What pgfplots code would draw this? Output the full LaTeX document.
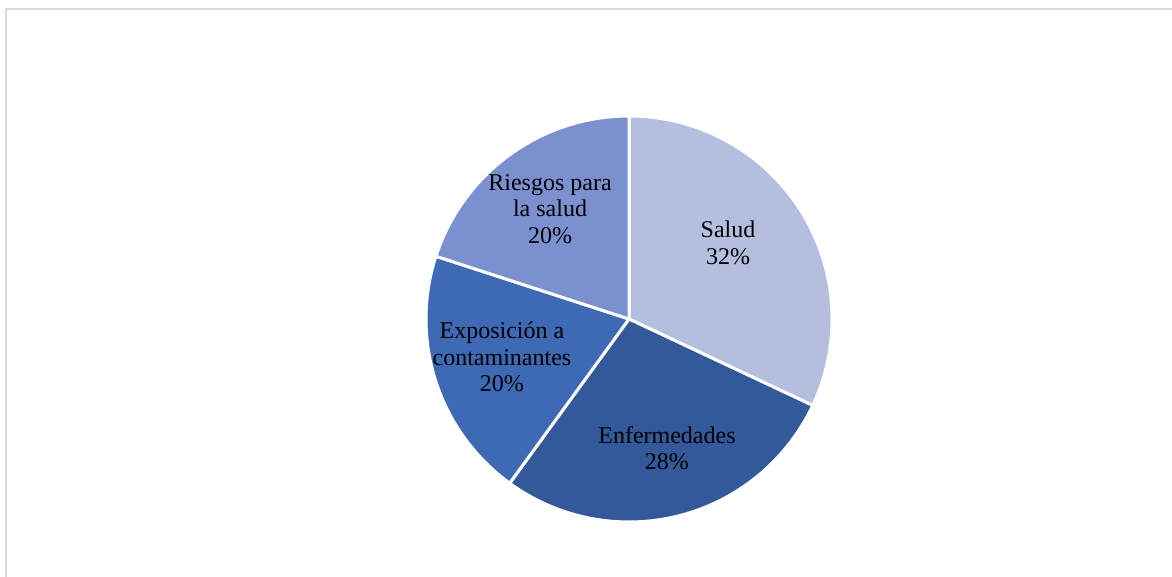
\documentclass[border=0pt]{standalone}
\usepackage{fontspec}
\setmainfont{Liberation Serif}
\usepackage{pgfplots}
\usepackage{pgfplotstable}
\pgfplotsset{compat=1.18}
\definecolor{cSalud}{HTML}{B4BFE0}
\definecolor{cEnf}{HTML}{34599A}
\definecolor{cExp}{HTML}{3E69B5}
\definecolor{cRies}{HTML}{7B91CF}
\definecolor{frame}{HTML}{D9D9D9}
\pgfplotstableread{
category value color
Salud 32 cSalud
Enfermedades 28 cEnf
Exposicion 20 cExp
Riesgos 20 cRies
}\piedata
\begin{document}
\begin{tikzpicture}
\def\radius{101.5pt}
\begin{axis}[width=586pt, height=288.5pt, scale only axis, hide axis,
  xmin=-3.1139, xmax=2.6881, ymin=-1.2772, ymax=1.5792, clip=false]
\def\cum{90}
\pgfplotsforeachungrouped \i in {0,...,3}{%
  \pgfplotstablegetelem{\i}{value}\of\piedata \let\v\pgfplotsretval
  \pgfplotstablegetelem{\i}{color}\of\piedata \let\c\pgfplotsretval
  \pgfmathsetmacro\endang{\cum-3.6*\v}%
  \edef\temp{\noexpand\filldraw[fill=\c, draw=white, line width=1.5pt, line join=round] (axis cs:0,0) -- ++(\cum:\radius) arc[start angle=\cum, end angle=\endang, radius=\radius] -- cycle;}%
  \temp
  \let\cum\endang
}
\begingroup
\fontsize{12}{13.25}\selectfont
\node[align=center, font=\fontsize{12}{13.25}\selectfont] at (axis cs:0.490,0.376) {Salud\\32\%};
\node[align=center, font=\fontsize{12}{13.25}\selectfont] at (axis cs:0.188,-0.639) {Enfermedades\\28\%};
\node[align=center, font=\fontsize{12}{13.25}\selectfont] at (axis cs:-0.629,-0.188) {Exposición a\\contaminantes\\20\%};
\node[align=center, font=\fontsize{12}{13.25}\selectfont] at (axis cs:-0.391,0.545) {Riesgos para\\la salud\\20\%};
\endgroup
\end{axis}
\draw[overlay, frame, line width=1pt] ([shift={(2.75pt,-4.75pt)}]current axis.north west) rectangle ([shift={(10pt,-10pt)}]current axis.south east);
\pgfresetboundingbox
\path[use as bounding box] (current axis.south west) rectangle (current axis.north east);
\end{tikzpicture}
\end{document}
